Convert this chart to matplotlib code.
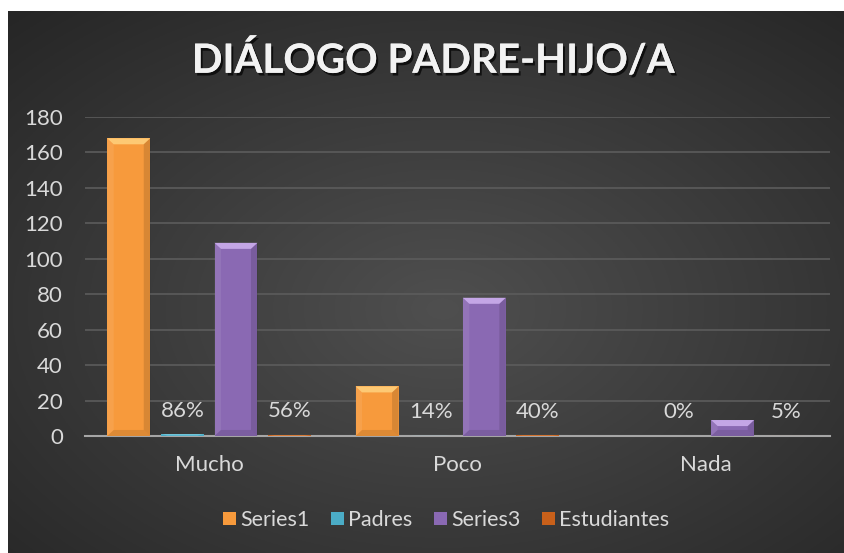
import numpy as np
import matplotlib
matplotlib.use("Agg")
import matplotlib.pyplot as plt
import matplotlib.patheffects as pe
from matplotlib.patches import Polygon, Patch

plt.rcParams['font.family'] = ['Lato', 'DejaVu Sans']

# datos
categorias = ['Mucho', 'Poco', 'Nada']
series1 = [168, 28, 0]
padres = [0.86, 0.14, 0.0]
series3 = [109, 78, 9]
estudiantes = [0.56, 0.40, 0.05]
nombres = ['Series1', 'Padres', 'Series3', 'Estudiantes']

colores = ['#f79a3c', '#4bacc6', '#8a69b3', '#c8601a']
claros = ['#ffd27f', '#9fe3f2', '#cfb2f0', '#f0a060']

W, H = 844, 553
fig = plt.figure(figsize=(W / 100, H / 100), dpi=100)
fig.patch.set_facecolor('white')

# fondo con degradado radial
bg = fig.add_axes([8 / W, 0, 1 - 8 / W, (H - 11) / H])
yy, xx = np.mgrid[0:1:300j, 0:1:460j]
r = np.sqrt(((xx - 0.52) / 0.75) ** 2 + ((yy - 0.55) / 0.75) ** 2)
val = np.clip(0.31 - 0.16 * r, 0.15, 0.31)
bg.imshow(np.dstack([val, val, val]), aspect='auto', extent=[0, 1, 0, 1])
bg.set_axis_off()

ax = fig.add_axes([85 / W, 117 / H, (830 - 85) / W, (436 - 117) / H])
ax.set_facecolor('none')

x = np.arange(len(categorias))
paso = 0.216
ancho = 0.173
datos = [series1, padres, series3, estudiantes]

barras = []
for k, serie in enumerate(datos):
    b = ax.bar(x + (k - 1.5) * paso, serie, ancho, color=colores[k],
               edgecolor='none', zorder=3, label=nombres[k])
    barras.append(b)

# efecto bisel
dx0 = 0.026
dy0 = 3.4
for k, b in enumerate(barras):
    for p in b.patches:
        x0, w, h = p.get_x(), p.get_width(), p.get_height()
        if h <= 0:
            continue
        dy = min(dy0, h / 2)
        top = Polygon([(x0, h), (x0 + w, h), (x0 + w - dx0, h - dy), (x0 + dx0, h - dy)],
                      closed=True, facecolor=claros[k], edgecolor='none', zorder=4, alpha=0.85)
        ax.add_patch(top)
        if h > 2 * dy0:
            izq = Polygon([(x0, h), (x0 + dx0, h - dy), (x0 + dx0, dy), (x0, 0)],
                          closed=True, facecolor='white', alpha=0.08, edgecolor='none', zorder=4)
            der = Polygon([(x0 + w, h), (x0 + w - dx0, h - dy), (x0 + w - dx0, dy), (x0 + w, 0)],
                          closed=True, facecolor='black', alpha=0.12, edgecolor='none', zorder=4)
            bot = Polygon([(x0, 0), (x0 + w, 0), (x0 + w - dx0, dy), (x0 + dx0, dy)],
                          closed=True, facecolor='black', alpha=0.10, edgecolor='none', zorder=4)
            ax.add_patch(izq)
            ax.add_patch(der)
            ax.add_patch(bot)

# etiquetas de porcentaje
for k in (1, 3):
    for p, v in zip(barras[k].patches, datos[k]):
        ax.annotate(f"{v * 100:.0f}%", (p.get_x() + p.get_width() / 2, p.get_height()),
                    xytext=(0, 17), textcoords='offset points', ha='center', va='center',
                    color='#d9d9d9', fontsize=16, zorder=5)

ax.set_xlim(-0.5, 2.5)
ax.set_ylim(0, 180)
ax.set_yticks(np.arange(0, 181, 20))
ax.set_xticks(x)
ax.set_xticklabels(categorias)
ax.yaxis.grid(True, color='#5c5c5c', linewidth=1.2, zorder=0)
ax.set_axisbelow(True)
for s in ['top', 'right', 'left']:
    ax.spines[s].set_visible(False)
ax.spines['bottom'].set_color('#a6a6a6')
ax.spines['bottom'].set_linewidth(1.5)
ax.spines['bottom'].set_zorder(2.5)
ax.tick_params(axis='y', length=0, pad=16, labelsize=16, labelcolor='#d9d9d9')
ax.tick_params(axis='x', length=0, pad=14, labelsize=16, labelcolor='#d9d9d9')

# leyenda
handles = [Patch(facecolor=colores[k], edgecolor='none') for k in range(4)]
leg = fig.legend(handles, nombres, loc='center', bbox_to_anchor=(446 / W, 1 - 520 / H),
                 ncol=4, frameon=False, fontsize=15.5, handlelength=0.6, handleheight=0.6,
                 handletextpad=0.2, columnspacing=1.0, labelcolor='#d9d9d9')

# titulo
fig.text(433 / W, 1 - 60 / H, 'DIÁLOGO PADRE-HIJO/A', ha='center', va='center',
         fontsize=29, fontweight='bold', color='#f2f2f2',
         path_effects=[pe.withSimplePatchShadow(offset=(1.5, -2), shadow_rgbFace='black', alpha=0.7),
                       pe.Normal()])

fig.savefig('out.png', dpi=100, facecolor=fig.get_facecolor())
